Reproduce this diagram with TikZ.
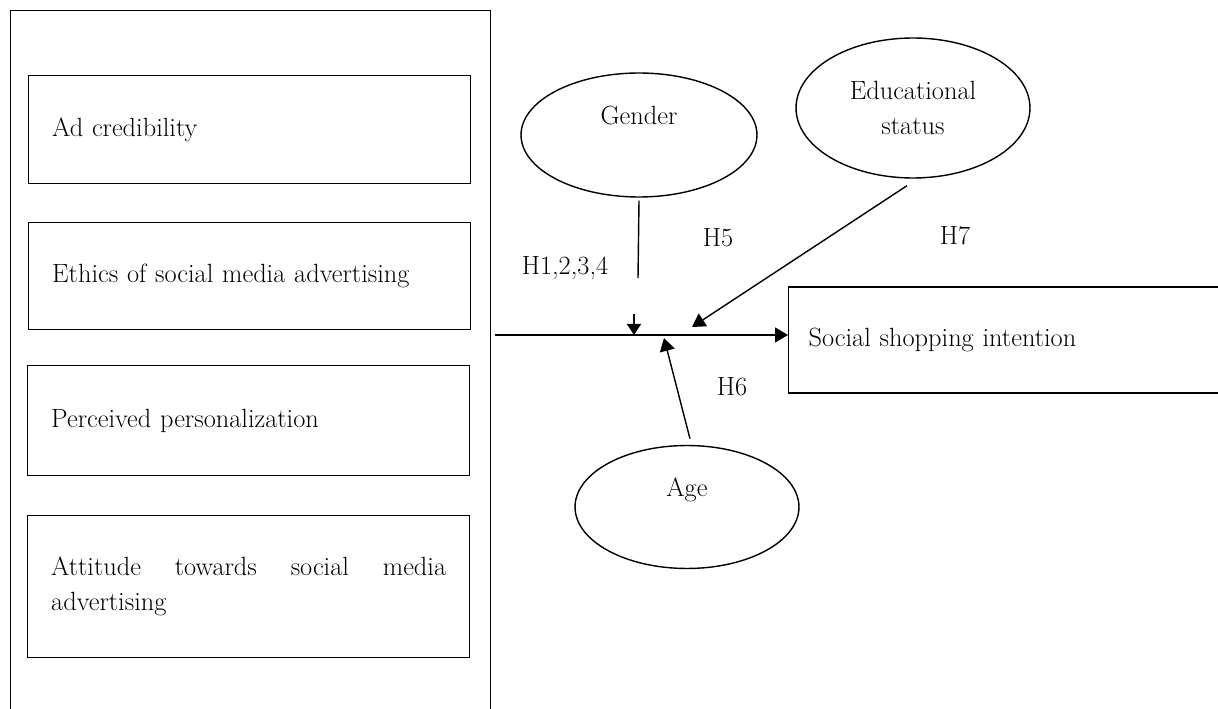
\documentclass[tikz,border=0pt]{standalone}
\usepackage{fontspec}
\usetikzlibrary{arrows.meta, shapes.geometric}

\tikzset{
    factor/.style={draw, anchor=north west, minimum width=8.84cm,
        text width=7.9cm, inner xsep=0.45cm, align=left},
    moderator/.style={draw, ellipse, align=center, inner sep=0pt},
    lifted/.style={text height=0.4cm, text depth=0.8cm},
    link/.style={-{Triangle[length=0.26cm, width=0.3cm]}},
}

\begin{document}
\begin{tikzpicture}[x=0.02cm, y=-0.02cm, line width=0.8pt,
    font=\fontsize{15}{20}\selectfont]
    \useasboundingbox (0,0) rectangle (1218,709);
    \clip (0,0) rectangle (1218,709);

    % Independent variables
    \node[draw, anchor=north west, minimum width=9.6cm,
        minimum height=14.6cm] (ivs) at (10,10) {};
    \node[factor, minimum height=2.16cm] (cred) at (28,75) {Ad credibility};
    \node[factor, minimum height=2.14cm] (ethics) at (28,222)
        {Ethics of social media advertising};
    \node[factor, minimum height=2.2cm] (perso) at (27,365)
        {Perceived personalization};
    \node[factor, minimum height=2.84cm] (atti) at (27,515)
        {Attitude\hfill towards\hfill social\hfill media\\advertising};

    % Outcome
    \node[draw, anchor=west, minimum height=2.12cm,
        text width=8.4cm, inner xsep=0.4cm, align=left] (social) at (788,340)
        {Social shopping intention};

    % Moderators
    \node[moderator, lifted, minimum width=4.72cm, minimum height=2.48cm]
        (gender) at (639,135) {Gender};
    \node[moderator, minimum width=4.68cm, minimum height=2.8cm]
        (edu) at (913,108) {Educational\\status};
    \node[moderator, lifted, minimum width=4.48cm, minimum height=2.46cm]
        (age) at (687,507) {Age};

    % Main path
    \coordinate (src) at (495,335);
    \draw[link] (src) -- (src -| social.west);

    % Moderating effects
    \coordinate (gEnd) at (638,278);
    \coordinate (gArr) at (634,314);
    \coordinate (jEdu) at (692,327);
    \coordinate (jAge) at (664,338);
    \draw ([shift={(0,3)}]gender.south) -- (gEnd);
    \draw[-{Triangle[length=0.22cm, width=0.28cm]}]
        (gArr) -- (gArr |- src);
    \draw[link] ([shift={(-6,7)}]edu.south) -- (jEdu);
    \draw[link] ([shift={(3,-6)}]age.north) -- (jAge);

    % Hypotheses
    \node (h1) at (565,268) {H1,2,3,4};
    \node (h5) at (718,238) {H5};
    \node (h7) at (955,236) {H7};
    \node (h6) at (732,387) {H6};

\end{tikzpicture}
\end{document}
